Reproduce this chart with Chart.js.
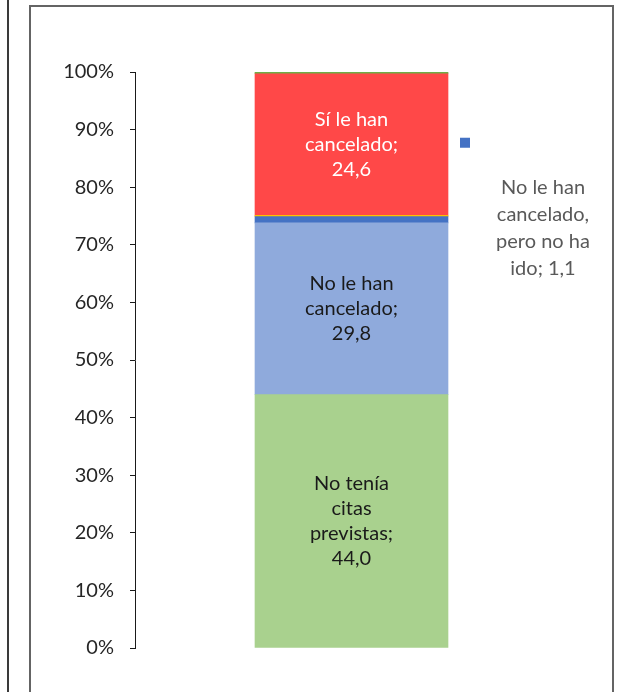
<!DOCTYPE html>
<html>
<head>
<meta charset="utf-8">
<script src="https://cdn.jsdelivr.net/npm/chart.js@4/dist/chart.umd.min.js"></script>
<style>
  html, body { margin: 0; padding: 0; background: #fff; }
  #wrap { position: relative; width: 618px; height: 692px; overflow: hidden; }
  #frame { position: absolute; left: 29px; top: 5px; width: 585px; height: 720px; border: 2px solid #646464; box-sizing: border-box; }
  #edge { position: absolute; left: 7px; top: 0; width: 2px; height: 692px; background: #3a3a3a; }
  canvas { position: absolute; left: 0; top: 0; }
</style>
</head>
<body>
<div id="wrap">
  <div id="edge"></div>
  <div id="frame"></div>
  <canvas id="chart" width="618" height="692"></canvas>
</div>
<script>
// ---- data (percent of respondents) ----
const categories = [''];
const segmentNames = [
  'No tenía citas previstas',
  'No le han cancelado',
  'No le han cancelado, pero no ha ido',
  'Otro',
  'Sí le han cancelado',
  'NS/NC'
];
const segmentValues = [44.0, 29.8, 1.1, 0.2, 24.6, 0.3];
const segmentColors = ['#A9D18E', '#8FAADC', '#4472C4', '#FFC000', '#FF4848', '#70AD47'];
// label lines shown on the chart (null = no label)
const segmentLabels = [
  ['No tenía', 'citas', 'previstas;', '44,0'],
  ['No le han', 'cancelado;', '29,8'],
  ['No le han', 'cancelado,', 'pero no ha', 'ido; 1,1'],
  null,
  ['Sí le han', 'cancelado;', '24,6'],
  null
];
const labelColors = ['#1a1a1a', '#1a1a1a', '#595959', null, '#ffffff', null];
const yTicks = [0, 10, 20, 30, 40, 50, 60, 70, 80, 90, 100];

const FONT = "Lato, 'Open Sans', sans-serif";

// draws the segment labels; the small segment gets an outside label with key
const segLabelPlugin = {
  id: 'segLabels',
  afterDatasetsDraw(chart) {
    const ctx = chart.ctx;
    ctx.save();
    ctx.font = '20px ' + FONT;
    ctx.textAlign = 'center';
    ctx.textBaseline = 'middle';
    chart.data.datasets.forEach((ds, i) => {
      const lines = segmentLabels[i];
      if (!lines) return;
      const bar = chart.getDatasetMeta(i).data[0];
      const midY = (bar.y + bar.base) / 2;
      const lh = 25;
      if (i === 2) {
        // outside label with legend key
        const right = bar.x + bar.width / 2;
        ctx.fillStyle = segmentColors[i];
        ctx.fillRect(right + 12, midY - 82, 10, 10);
        ctx.fillStyle = labelColors[i];
        const cx = right + 95;
        const lh2 = 27;
        const top = midY + 8 - (lines.length - 1) * lh2 / 2;
        lines.forEach((t, k) => ctx.fillText(t, cx, top + k * lh2));
        return;
      }
      ctx.fillStyle = labelColors[i];
      const top = midY - (lines.length - 1) * lh / 2;
      lines.forEach((t, k) => ctx.fillText(t, bar.x, top + k * lh));
    });
    ctx.restore();
  }
};

new Chart(document.getElementById('chart'), {
  type: 'bar',
  data: {
    labels: categories,
    datasets: segmentValues.map((v, i) => ({
      label: segmentNames[i],
      data: [v],
      backgroundColor: segmentColors[i],
      borderWidth: 0,
      barThickness: 193
    }))
  },
  options: {
    responsive: false,
    animation: false,
    devicePixelRatio: 1,
    layout: { padding: { top: 72, bottom: 44, left: 0, right: 50 } },
    plugins: {
      legend: { display: false },
      tooltip: { enabled: false }
    },
    scales: {
      x: { stacked: true, display: false },
      y: {
        stacked: true,
        min: 0,
        max: 100,
        afterBuildTicks: (scale) => { scale.ticks = yTicks.map(v => ({ value: v })); },
        afterFit: (scale) => { scale.width = 135; },
        grid: { drawOnChartArea: false, drawTicks: true, tickLength: 5, color: '#1a1a1a', lineWidth: 1 },
        border: { display: true, color: '#1a1a1a', width: 1 },
        ticks: {
          padding: 16,
          color: '#262626',
          font: { family: FONT, size: 20 },
          callback: (v) => v + '%'
        }
      }
    }
  },
  plugins: [segLabelPlugin]
});
</script>
</body>
</html>
